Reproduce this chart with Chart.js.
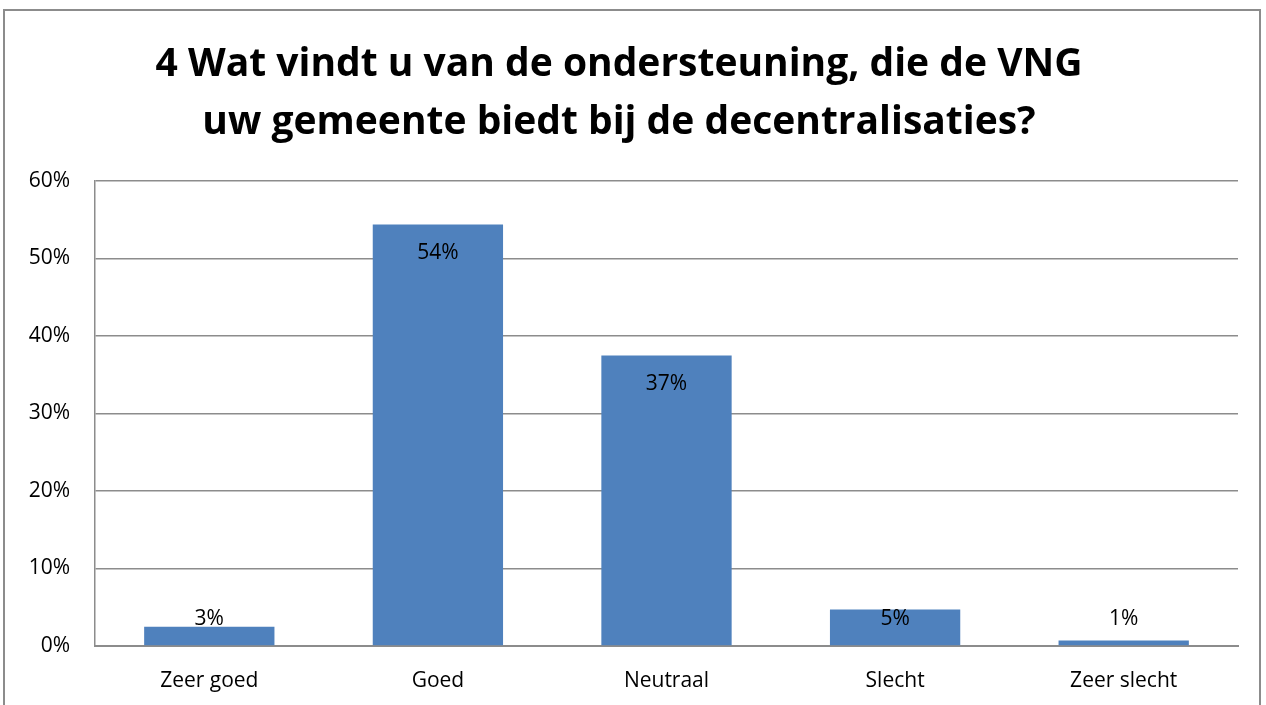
<!DOCTYPE html>
<html>
<head>
<meta charset="utf-8">
<script src="https://cdn.jsdelivr.net/npm/chart.js@4"></script>
<style>
  html, body { margin: 0; padding: 0; background: #fff; }
  #wrap { width: 1266px; height: 705px; }
</style>
</head>
<body>
<div id="wrap"><canvas id="myChart" width="1266" height="705"></canvas></div>
<script>
var categories = ["Zeer goed", "Goed", "Neutraal", "Slecht", "Zeer slecht"];
var percentages = [2.5, 54.4, 37.5, 4.7, 0.7];
var valueLabels = ["3%", "54%", "37%", "5%", "1%"];
var titleLines = ["4 Wat vindt u van de ondersteuning, die de VNG", "uw gemeente biedt bij de decentralisaties?"];

var FONT = "'Open Sans', 'Liberation Sans', sans-serif";

// outer frame like the Excel chart border
var framePlugin = {
  id: 'frame',
  beforeDraw: function(chart) {
    var ctx = chart.ctx;
    ctx.save();
    ctx.fillStyle = '#fff';
    ctx.fillRect(0, 0, chart.width, chart.height);
    ctx.strokeStyle = '#8c8c8c';
    ctx.lineWidth = 2;
    ctx.strokeRect(4, 10, 1256, 720);
    ctx.restore();
  }
};

// value labels at the top inside end of each bar
var labelPlugin = {
  id: 'valueLabels',
  afterDatasetsDraw: function(chart) {
    var ctx = chart.ctx;
    var meta = chart.getDatasetMeta(0);
    var base = chart.scales.y.getPixelForValue(0);
    ctx.save();
    ctx.font = '21px ' + FONT;
    ctx.fillStyle = '#000';
    ctx.textAlign = 'center';
    ctx.textBaseline = 'middle';
    meta.data.forEach(function(bar, i) {
      var y = Math.min(bar.y + 29, base - 27);
      ctx.fillText(valueLabels[i], bar.x, y);
    });
    ctx.restore();
  }
};

new Chart("myChart", {
  type: "bar",
  data: {
    labels: categories,
    datasets: [{
      data: percentages,
      backgroundColor: '#4f81bd',
      borderWidth: 0,
      barPercentage: 0.57,
      categoryPercentage: 1
    }]
  },
  options: {
    responsive: false,
    animation: false,
    layout: { padding: { left: 0, right: 28, top: 0, bottom: 0 } },
    plugins: {
      legend: { display: false },
      tooltip: { enabled: false },
      title: {
        display: true,
        text: titleLines,
        color: '#000',
        font: { family: FONT, size: 39, weight: 'bold', lineHeight: 58 / 39 },
        padding: { top: 36, bottom: 29 }
      }
    },
    scales: {
      x: {
        grid: { display: false, drawTicks: false },
        border: { display: true, color: '#8c8c8c', width: 2 },
        ticks: { color: '#000', font: { family: FONT, size: 21 }, padding: 22 },
        afterFit: function(s) { s.height = 59; }
      },
      y: {
        min: 0,
        max: 60,
        grid: { color: '#8c8c8c', lineWidth: 1.5, drawTicks: false },
        border: { display: true, color: '#8c8c8c', width: 1.5 },
        ticks: {
          stepSize: 10,
          color: '#000',
          padding: 25,
          font: { family: FONT, size: 21 },
          callback: function(v) { return v + '%'; }
        },
        afterFit: function(s) { s.width = 95; }
      }
    }
  },
  plugins: [framePlugin, labelPlugin]
});
</script>
</body>
</html>
